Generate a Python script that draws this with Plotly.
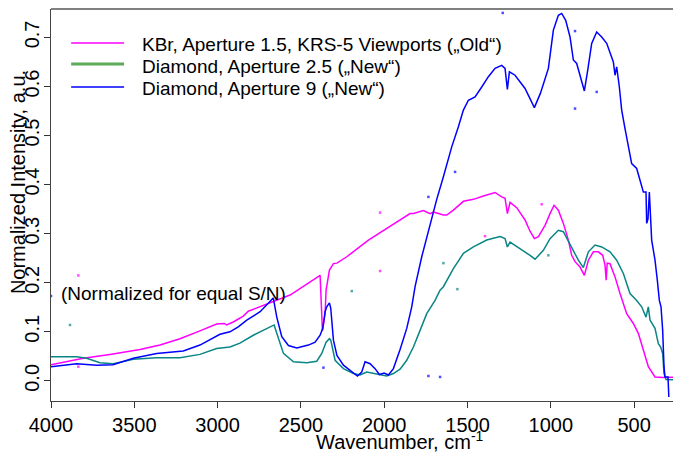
import plotly.graph_objects as go

# --- data (wavenumber in cm-1, normalized intensity) ---
kbr_wn = [4000, 3806, 3646, 3466, 3346, 3226, 3106, 3006, 2960, 2946, 2906, 2846, 2816, 2706,
          2565, 2385, 2371, 2355, 2349, 2329, 2305, 2284, 2225, 2095, 2005, 1845, 1825, 1765,
          1725, 1705, 1675, 1645, 1625, 1585, 1525, 1465, 1405, 1335, 1295, 1275, 1261, 1245,
          1205, 1155, 1125, 1099, 1075, 1035, 1005, 981, 955, 925, 895, 875, 855, 825, 799,
          775, 745, 715, 689, 675, 668, 662, 645, 615, 585, 545, 505, 475, 445, 415, 375, 325, 219]
kbr_int = [0.033, 0.046, 0.054, 0.064, 0.073, 0.086, 0.102, 0.116, 0.117, 0.114, 0.120, 0.132, 0.142, 0.156,
           0.175, 0.215, 0.102, 0.137, 0.185, 0.226, 0.239, 0.240, 0.253, 0.287, 0.307, 0.341, 0.341, 0.347,
           0.341, 0.344, 0.341, 0.338, 0.338, 0.348, 0.366, 0.370, 0.377, 0.384, 0.375, 0.372, 0.341, 0.364,
           0.353, 0.328, 0.305, 0.290, 0.294, 0.317, 0.341, 0.358, 0.348, 0.321, 0.287, 0.256, 0.243, 0.232, 0.215,
           0.246, 0.263, 0.263, 0.256, 0.236, 0.205, 0.240, 0.239, 0.212, 0.178, 0.137, 0.117, 0.097, 0.063, 0.029, 0.008, 0.007, 0.008]

dia25_wn = [4000, 3846, 3786, 3706, 3626, 3506, 3366, 3226, 3106, 3006, 2926, 2866, 2786, 2661,
            2645, 2605, 2545, 2465, 2405, 2375, 2349, 2329, 2321, 2295, 2245, 2185, 2145, 2105,
            2045, 1985, 1945, 1905, 1865, 1825, 1785, 1745, 1695, 1665, 1645, 1585, 1525, 1465,
            1385, 1305, 1275, 1261, 1245, 1185, 1125, 1095, 1045, 1005, 955, 925, 885, 865, 835,
            805, 775, 735, 695, 645, 605, 565, 525, 485, 455, 429, 415, 405, 375, 355, 341, 329,
            321, 309, 219]
dia25_int = [0.049, 0.049, 0.046, 0.037, 0.035, 0.044, 0.047, 0.047, 0.054, 0.066, 0.069, 0.077, 0.093, 0.114,
             0.097, 0.056, 0.039, 0.037, 0.040, 0.056, 0.079, 0.086, 0.083, 0.042, 0.025, 0.015, 0.012, 0.018,
             0.014, 0.010, 0.015, 0.024, 0.042, 0.069, 0.103, 0.137, 0.164, 0.185, 0.192, 0.229, 0.260, 0.273,
             0.287, 0.294, 0.290, 0.273, 0.283, 0.270, 0.256, 0.248, 0.266, 0.290, 0.307, 0.304, 0.277, 0.263, 0.246,
             0.231, 0.263, 0.277, 0.273, 0.263, 0.246, 0.219, 0.178, 0.164, 0.151, 0.130, 0.151, 0.124, 0.107, 0.076,
             0.069, 0.056, 0.015, 0.003, 0.001]

dia9_wn = [4000, 3846, 3726, 3628, 3506, 3366, 3206, 3106, 2986, 2926, 2876, 2825, 2745, 2666,
           2645, 2615, 2575, 2525, 2455, 2415, 2385, 2369, 2355, 2345, 2329, 2321, 2305, 2284,
           2245, 2195, 2161, 2135, 2115, 2085, 2055, 2029, 2001, 1975, 1945, 1905, 1865, 1835,
           1815, 1775, 1735, 1685, 1645, 1595, 1555, 1525, 1495, 1455, 1415, 1375, 1335, 1295,
           1275, 1261, 1249, 1215, 1155, 1125, 1099, 1063, 1015, 985, 955, 935, 911, 885, 865,
           845, 815, 799, 779, 755, 725, 695, 665, 641, 625, 615, 605, 589, 575, 555, 535, 515,
           485, 465, 445, 429, 425, 417, 409, 395, 375, 361, 349, 339, 329, 321, 315, 305, 297, 292]
dia9_int = [0.029, 0.035, 0.032, 0.033, 0.046, 0.056, 0.061, 0.073, 0.095, 0.100, 0.110, 0.124, 0.141, 0.169,
            0.130, 0.090, 0.072, 0.067, 0.073, 0.079, 0.093, 0.107, 0.141, 0.151, 0.159, 0.148, 0.083, 0.052,
            0.032, 0.018, 0.010, 0.018, 0.039, 0.035, 0.025, 0.013, 0.016, 0.012, 0.025, 0.064, 0.107, 0.151,
            0.192, 0.253, 0.307, 0.370, 0.416, 0.477, 0.518, 0.552, 0.572, 0.579, 0.599, 0.620, 0.637, 0.643,
            0.637, 0.594, 0.630, 0.623, 0.596, 0.576, 0.557, 0.586, 0.637, 0.715, 0.745, 0.749, 0.735, 0.701, 0.654,
            0.647, 0.613, 0.591, 0.633, 0.688, 0.711, 0.701, 0.688, 0.664, 0.650, 0.623, 0.640, 0.599, 0.552, 0.514,
            0.477, 0.443, 0.433, 0.406, 0.385, 0.385, 0.321, 0.330, 0.385, 0.287, 0.246, 0.205, 0.164, 0.151, 0.103,
            0.029, 0.008, 0.008, 0.008, -0.033]

# stray single points visible around the curves
kbr_dots_wn = [3836, 3836, 2025, 2025, 1395, 1055]
kbr_dots_int = [0.215, 0.029, 0.224, 0.343, 0.295, 0.360]
dia25_dots_wn = [3886, 2195, 1561, 1645, 1015]
dia25_dots_int = [0.114, 0.183, 0.187, 0.240, 0.256]
dia9_dots_wn = [4000, 1289, 855, 855, 725, 1575, 1735, 1735, 1665, 2365]
dia9_dots_int = [0.173, 0.750, 0.713, 0.555, 0.589, 0.426, 0.375, 0.010, 0.008, 0.027]

labels = ["KBr, Aperture 1.5, KRS-5 Viewports (\u201eOld\u201c)",
          "Diamond, Aperture 2.5 (\u201eNew\u201c)",
          "Diamond, Aperture 9 (\u201eNew\u201c)"]
xticks = [4000, 3500, 3000, 2500, 2000, 1500, 1000, 500]
yticks = [0.0, 0.1, 0.2, 0.3, 0.4, 0.5, 0.6, 0.7]

FONT = "Liberation Sans, Arial, sans-serif"
MAGENTA = "#ff00ff"
TEAL = "#0a8585"
BLUE = "#0000ff"

fig = go.Figure()

series = [
    (kbr_wn, kbr_int, kbr_dots_wn, kbr_dots_int, MAGENTA),
    (dia25_wn, dia25_int, dia25_dots_wn, dia25_dots_int, TEAL),
    (dia9_wn, dia9_int, dia9_dots_wn, dia9_dots_int, BLUE),
]
for wn, inten, dwn, dint, col in series:
    fig.add_trace(go.Scatter(x=wn, y=inten, mode="lines", showlegend=False,
                             line=dict(color=col, width=1.5)))
    fig.add_trace(go.Scatter(x=dwn, y=dint, mode="markers", showlegend=False,
                             marker=dict(color=col, size=2.5, symbol="square", opacity=0.7)))

# hand-placed legend (the key for the 2.5 aperture is drawn in green)
legend_cols = [(MAGENTA, 1.5), ("#5aaa5a", 3), (BLUE, 1.5)]
key_y = [0.913, 0.860, 0.801]
text_y = [0.909, 0.853, 0.797]
shapes = [dict(type="line", xref="paper", yref="paper", x0=0, x1=1, y0=1, y1=1,
               line=dict(color="#808080", width=2))]
annotations = []
for lab, (col, w), ky, ty in zip(labels, legend_cols, key_y, text_y):
    shapes.append(dict(type="line", xref="paper", yref="paper", x0=0.032, x1=0.116,
                       y0=ky, y1=ky, line=dict(color=col, width=w)))
    annotations.append(dict(text=lab, xref="paper", yref="paper", x=0.141, y=ty,
                            xanchor="left", yanchor="middle", showarrow=False,
                            font=dict(size=19)))

annotations += [
    dict(text="Wavenumber, cm<sup>-1</sup>", xref="paper", yref="paper",
         x=0.554, y=-0.102, xanchor="center", yanchor="middle", showarrow=False,
         font=dict(size=20)),
    dict(text="Normalized Intensity, a.u.", xref="paper", yref="paper",
         x=-0.052, y=0.559, xanchor="center", yanchor="middle", textangle=-90,
         showarrow=False, font=dict(size=20)),
    dict(text="(Normalized for equal S/N)", xref="paper", yref="paper",
         x=0.012, y=0.2755, xanchor="left", yanchor="middle", showarrow=False,
         font=dict(size=19)),
]

# the page body keeps its default 8px margin, so the figure is 8px smaller
fig.update_layout(
    width=673, height=450,
    margin=dict(l=43, r=0, t=1, b=57, pad=0, autoexpand=False),
    plot_bgcolor="white", paper_bgcolor="white",
    font=dict(family=FONT, size=20, color="black"),
    showlegend=False,
    xaxis=dict(range=[4000, 219], tickvals=xticks, ticks="outside", ticklen=6,
               tickcolor="#333", showline=True, linecolor="#444", linewidth=1,
               showgrid=False, zeroline=False, automargin=False,
               tickfont=dict(size=20)),
    yaxis=dict(range=[-0.041, 0.758], tickvals=yticks,
               ticktext=[f"{v:.1f}" for v in yticks], tickangle=-90,
               ticks="outside", ticklen=6, tickcolor="#333", showline=True,
               linecolor="#444", linewidth=1, showgrid=False, zeroline=False,
               automargin=False, tickfont=dict(size=20), ticklabelstandoff=-3),
    shapes=shapes,
    annotations=annotations,
)

fig.write_html("out.html")
